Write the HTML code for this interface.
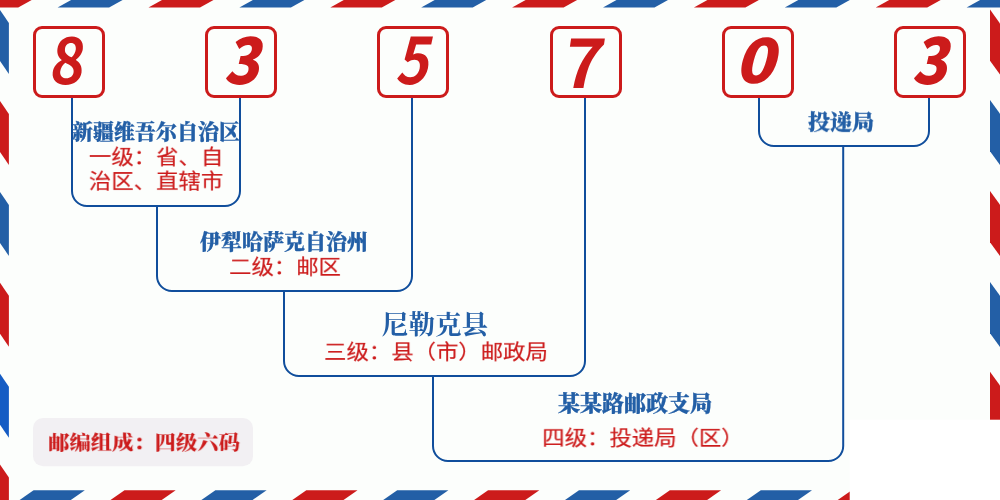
<!DOCTYPE html>
<html lang="zh-CN"><head><meta charset="utf-8"><title>835703</title>
<style>
html,body{margin:0;padding:0}
body{width:1000px;height:500px;position:relative;overflow:hidden;background:#fcfefc;font-family:"Liberation Sans","Noto Sans CJK SC",sans-serif}
.t{position:absolute;white-space:nowrap;text-align:center;transform:translateX(-50%);will-change:transform}
.b{color:#235fa6;font-family:"Liberation Serif","Noto Serif CJK SC",serif;font-weight:900;font-size:21px;line-height:24px;-webkit-text-stroke:0.3px currentColor}
.r{color:#cc1b1b;font-family:"Liberation Sans","Noto Sans CJK SC",sans-serif;font-weight:400;-webkit-text-stroke:0.2px currentColor;font-size:22.4px;line-height:26.67px;transform:translateX(-50%) scaleY(0.9);transform-origin:50% 0}
.dg{position:absolute;top:17.5px;width:80px;height:80px;line-height:80px;text-align:center;color:#cc1b1b;font-family:"Noto Sans CJK SC","Liberation Sans",sans-serif;font-weight:900;font-style:italic;font-size:63px}
</style></head><body>
<svg width="1000" height="500" viewBox="0 0 1000 500" style="position:absolute;left:0;top:0"><polygon points="-19.8,0.0 31.7,0.0 18.2,7.5 -33.3,7.5" fill="#cc1b1b"/>
<polygon points="71.1,0.0 122.6,0.0 109.1,7.5 57.6,7.5" fill="#235fa6"/>
<polygon points="162.0,0.0 213.5,0.0 200.0,7.5 148.5,7.5" fill="#cc1b1b"/>
<polygon points="252.9,0.0 304.4,0.0 290.9,7.5 239.4,7.5" fill="#235fa6"/>
<polygon points="343.8,0.0 395.3,0.0 381.8,7.5 330.3,7.5" fill="#cc1b1b"/>
<polygon points="434.7,0.0 486.2,0.0 472.7,7.5 421.2,7.5" fill="#235fa6"/>
<polygon points="525.6,0.0 577.1,0.0 563.6,7.5 512.1,7.5" fill="#cc1b1b"/>
<polygon points="616.5,0.0 668.0,0.0 654.5,7.5 603.0,7.5" fill="#235fa6"/>
<polygon points="707.4,0.0 758.9,0.0 745.4,7.5 693.9,7.5" fill="#cc1b1b"/>
<polygon points="798.3,0.0 849.8,0.0 836.3,7.5 784.8,7.5" fill="#235fa6"/>
<polygon points="889.2,0.0 940.7,0.0 927.2,7.5 875.7,7.5" fill="#cc1b1b"/>
<polygon points="980.1,0.0 1031.6,0.0 1018.1,7.5 966.6,7.5" fill="#235fa6"/>
<polygon points="-57.3,490.2 -6.1,490.2 -20.1,500.0 -71.3,500.0" fill="#cc1b1b"/>
<polygon points="33.6,490.2 84.8,490.2 70.8,500.0 19.6,500.0" fill="#235fa6"/>
<polygon points="124.5,490.2 175.7,490.2 161.7,500.0 110.5,500.0" fill="#cc1b1b"/>
<polygon points="215.4,490.2 266.6,490.2 252.6,500.0 201.4,500.0" fill="#235fa6"/>
<polygon points="306.3,490.2 357.5,490.2 343.5,500.0 292.3,500.0" fill="#cc1b1b"/>
<polygon points="397.2,490.2 448.4,490.2 434.4,500.0 383.2,500.0" fill="#235fa6"/>
<polygon points="488.1,490.2 539.3,490.2 525.3,500.0 474.1,500.0" fill="#cc1b1b"/>
<polygon points="579.0,490.2 630.2,490.2 616.2,500.0 565.0,500.0" fill="#235fa6"/>
<polygon points="669.9,490.2 721.1,490.2 707.1,500.0 655.9,500.0" fill="#cc1b1b"/>
<polygon points="760.8,490.2 812.0,490.2 798.0,500.0 746.8,500.0" fill="#235fa6"/>
<polygon points="851.7,490.2 902.9,490.2 888.9,500.0 837.7,500.0" fill="#cc1b1b"/>
<polygon points="942.6,490.2 993.8,490.2 979.8,500.0 928.6,500.0" fill="#235fa6"/>
<polygon points="0.0,-80.8 8.9,-67.8 8.9,-16.8 0.0,-29.8" fill="#cc1b1b"/>
<polygon points="0.0,10.1 8.9,23.1 8.9,74.1 0.0,61.1" fill="#235fa6"/>
<polygon points="0.0,101.0 8.9,114.0 8.9,165.0 0.0,152.0" fill="#cc1b1b"/>
<polygon points="0.0,191.9 8.9,204.9 8.9,255.9 0.0,242.9" fill="#235fa6"/>
<polygon points="0.0,282.8 8.9,295.8 8.9,346.8 0.0,333.8" fill="#cc1b1b"/>
<polygon points="0.0,373.7 8.9,386.7 8.9,437.7 0.0,424.7" fill="#155cc4"/>
<polygon points="0.0,464.6 8.9,477.6 8.9,528.6 0.0,515.6" fill="#cc1b1b"/>
<polygon points="990.0,-81.0 1000.0,-67.2 1000.0,-16.0 990.0,-29.8" fill="#235fa6"/>
<polygon points="990.0,9.6 1000.0,23.4 1000.0,74.6 990.0,60.8" fill="#cc1b1b"/>
<polygon points="990.0,100.0 1000.0,113.8 1000.0,165.0 990.0,151.2" fill="#235fa6"/>
<polygon points="990.0,191.0 1000.0,204.8 1000.0,256.0 990.0,242.2" fill="#cc1b1b"/>
<polygon points="990.0,282.0 1000.0,295.8 1000.0,347.0 990.0,333.2" fill="#235fa6"/>
<polygon points="990.0,371.8 1000.0,385.6 1000.0,436.8 990.0,423.0" fill="#cc1b1b"/>
<polygon points="990.0,462.5 1000.0,476.3 1000.0,527.5 990.0,513.7" fill="#235fa6"/>
<rect x="849.7" y="419.7" width="151" height="81" fill="#ffffff"/>
<rect x="33" y="418" width="220" height="48.3" rx="10" fill="#f2f0f3"/>
<path d="M72 97 V191 A15 15 0 0 0 87 206 H225 A15 15 0 0 0 240 191 V97" fill="none" stroke="#104e9c" stroke-width="2"/>
<path d="M157 206 V276 A15 15 0 0 0 172 291 H397 A15 15 0 0 0 412 276 V97" fill="none" stroke="#104e9c" stroke-width="2"/>
<path d="M284 291 V361 A15 15 0 0 0 299 376 H570 A15 15 0 0 0 585 361 V97" fill="none" stroke="#104e9c" stroke-width="2"/>
<path d="M433 376 V446 A15 15 0 0 0 448 461 H828.2 A15 15 0 0 0 843.2 446 V146" fill="none" stroke="#104e9c" stroke-width="2"/>
<path d="M759 97 V131 A15 15 0 0 0 774 146 H914 A15 15 0 0 0 929 131 V97" fill="none" stroke="#104e9c" stroke-width="2"/>
<rect x="34.5" y="27.5" width="69.0" height="69.0" rx="7.5" fill="#fcfefc" stroke="#cc1b1b" stroke-width="3"/>
<rect x="206.5" y="27.5" width="69.0" height="69.0" rx="7.5" fill="#fcfefc" stroke="#cc1b1b" stroke-width="3"/>
<rect x="378.5" y="27.5" width="69.0" height="69.0" rx="7.5" fill="#fcfefc" stroke="#cc1b1b" stroke-width="3"/>
<rect x="551.5" y="27.5" width="69.0" height="69.0" rx="7.5" fill="#fcfefc" stroke="#cc1b1b" stroke-width="3"/>
<rect x="723.5" y="27.5" width="69.0" height="69.0" rx="7.5" fill="#fcfefc" stroke="#cc1b1b" stroke-width="3"/>
<rect x="895.5" y="27.5" width="69.0" height="69.0" rx="7.5" fill="#fcfefc" stroke="#cc1b1b" stroke-width="3"/></svg>
<div class="dg" style="left:29.00px;top:16.7px;font-weight:700;font-style:normal;transform:scale(0.920,1.000) skewX(-8deg)">8</div>
<div class="dg" style="left:200.75px;top:16.5px;font-weight:900;transform:scale(0.930,1.000)">3</div>
<div class="dg" style="left:371.00px;top:16.0px;font-weight:700;transform:scale(0.890,1.020)">5</div>
<div class="dg" style="left:545.00px;top:18.7px;font-weight:700;font-style:normal;transform:scale(1.090,1.060) skewX(-8deg)">7</div>
<div class="dg" style="left:714.10px;top:17.0px;font-weight:900;transform:scale(1.040,0.960)">0</div>
<div class="dg" style="left:888.75px;top:16.5px;font-weight:900;transform:scale(0.930,1.000)">3</div>

<div class="t b" style="left:156px;top:120.4px">新疆维吾尔自治区</div>
<div class="t r" style="left:156px;top:146.3px">一级：省、自<br>治区、直辖市</div>
<div class="t b" style="left:284px;top:230px">伊犁哈萨克自治州</div>
<div class="t r" style="left:284.5px;top:256px">二级：邮区</div>
<div class="t b" style="left:435.2px;top:311.1px;font-size:26.6px;font-weight:700;line-height:28px;-webkit-text-stroke:0">尼勒克县</div>
<div class="t r" style="left:436px;top:341.2px">三级：县（市）邮政局</div>
<div class="t b" style="left:635px;top:392px;font-size:22px">某某路邮政支局</div>
<div class="t r" style="left:643px;top:427.2px">四级：投递局（区）</div>
<div class="t b" style="left:841.4px;top:110.3px;font-size:22px;transform:translateX(-50%) scaleY(0.95);transform-origin:50% 100%">投递局</div>
<div class="t b" style="left:143.5px;top:431.3px;color:#cc1b1b;font-size:21.3px;-webkit-text-stroke:0;transform:translateX(-50%) scaleY(0.9);transform-origin:50% 50%">邮编组成：四级六码</div>
</body></html>
